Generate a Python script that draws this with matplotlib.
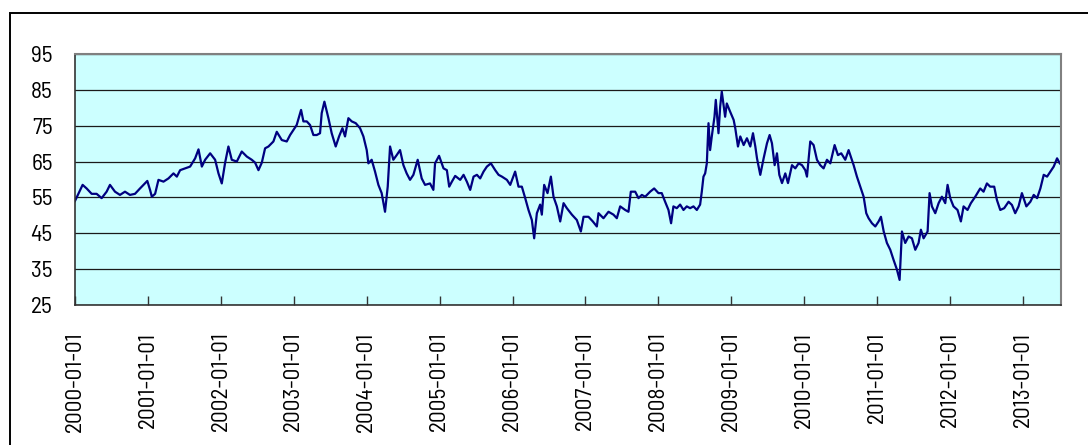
import matplotlib
matplotlib.use("Agg")
import matplotlib.pyplot as plt
import matplotlib.dates as mdates
from matplotlib import font_manager
from matplotlib.textpath import TextPath
from matplotlib.patches import Rectangle
import pandas as pd

# decimal years and index level
years = [
    2000.000, 2000.046, 2000.105, 2000.160, 2000.229, 2000.297, 2000.366, 2000.434,
    2000.480, 2000.549, 2000.617, 2000.686, 2000.754, 2000.823, 2000.892, 2000.992,
    2001.029, 2001.052, 2001.097, 2001.143, 2001.212, 2001.280, 2001.349, 2001.395,
    2001.440, 2001.509, 2001.577, 2001.646, 2001.692, 2001.738, 2001.783, 2001.852,
    2001.920, 2001.966, 2002.012, 2002.058, 2002.103, 2002.149, 2002.218, 2002.286,
    2002.355, 2002.423, 2002.469, 2002.515, 2002.561, 2002.606, 2002.652, 2002.720,
    2002.766, 2002.835, 2002.903, 2002.949, 2002.995, 2003.040, 2003.100, 2003.132,
    2003.178, 2003.223, 2003.269, 2003.315, 2003.360, 2003.383, 2003.420, 2003.475,
    2003.520, 2003.575, 2003.621, 2003.667, 2003.703, 2003.749, 2003.795, 2003.850,
    2003.909, 2003.955, 2004.001, 2004.024, 2004.069, 2004.115, 2004.161, 2004.206,
    2004.252, 2004.289, 2004.321, 2004.366, 2004.412, 2004.458, 2004.504, 2004.549,
    2004.595, 2004.641, 2004.700, 2004.755, 2004.801, 2004.869, 2004.915, 2004.938,
    2004.993, 2005.052, 2005.098, 2005.130, 2005.167, 2005.212, 2005.281, 2005.327,
    2005.372, 2005.418, 2005.464, 2005.510, 2005.555, 2005.601, 2005.647, 2005.702,
    2005.761, 2005.807, 2005.853, 2005.921, 2005.967, 2006.035, 2006.081, 2006.127,
    2006.173, 2006.218, 2006.264, 2006.296, 2006.333, 2006.378, 2006.401, 2006.433,
    2006.479, 2006.525, 2006.561, 2006.607, 2006.653, 2006.699, 2006.744, 2006.813,
    2006.881, 2006.936, 2006.973, 2007.041, 2007.101, 2007.156, 2007.179, 2007.247,
    2007.316, 2007.384, 2007.430, 2007.476, 2007.545, 2007.590, 2007.622, 2007.682,
    2007.727, 2007.773, 2007.819, 2007.887, 2007.942, 2008.002, 2008.047, 2008.093,
    2008.139, 2008.175, 2008.207, 2008.253, 2008.299, 2008.345, 2008.390, 2008.436,
    2008.482, 2008.528, 2008.573, 2008.596, 2008.619, 2008.642, 2008.665, 2008.688,
    2008.710, 2008.733, 2008.770, 2008.788, 2008.825, 2008.848, 2008.870, 2008.916,
    2008.939, 2008.985, 2009.031, 2009.053, 2009.090, 2009.122, 2009.168, 2009.213,
    2009.259, 2009.296, 2009.328, 2009.351, 2009.396, 2009.442, 2009.488, 2009.524,
    2009.556, 2009.593, 2009.625, 2009.657, 2009.694, 2009.739, 2009.776, 2009.831,
    2009.876, 2009.922, 2009.968, 2010.014, 2010.037, 2010.082, 2010.128, 2010.174,
    2010.219, 2010.265, 2010.311, 2010.357, 2010.416, 2010.462, 2010.507, 2010.562,
    2010.608, 2010.677, 2010.722, 2010.768, 2010.814, 2010.850, 2010.882, 2010.928,
    2010.974, 2011.020, 2011.052, 2011.090, 2011.134, 2011.180, 2011.225, 2011.271,
    2011.308, 2011.340, 2011.385, 2011.431, 2011.477, 2011.523, 2011.568, 2011.600,
    2011.637, 2011.692, 2011.719, 2011.751, 2011.797, 2011.843, 2011.888, 2011.934,
    2011.966, 2012.003, 2012.048, 2012.103, 2012.149, 2012.186, 2012.240, 2012.286,
    2012.346, 2012.414, 2012.460, 2012.506, 2012.551, 2012.606, 2012.643, 2012.689,
    2012.743, 2012.803, 2012.849, 2012.894, 2012.940, 2012.986, 2013.045, 2013.100,
    2013.146, 2013.192, 2013.237, 2013.283, 2013.329, 2013.375, 2013.420, 2013.466,
    2013.503,
]
values = [
    54.0, 56.0, 58.5, 57.5, 56.0, 56.0, 54.8, 56.6,
    58.5, 56.6, 55.7, 56.6, 55.7, 56.0, 57.5, 59.6,
    57.0, 55.2, 56.0, 59.9, 59.4, 60.3, 61.7, 60.8,
    62.6, 63.1, 63.6, 65.9, 68.4, 63.6, 65.5, 67.3,
    65.5, 61.7, 58.9, 64.7, 69.2, 65.5, 65.0, 67.8,
    66.4, 65.5, 64.7, 62.6, 64.7, 68.7, 69.2, 70.6,
    73.3, 71.0, 70.6, 72.4, 73.8, 75.2, 79.4, 76.2,
    76.2, 75.2, 72.4, 72.4, 72.9, 78.5, 81.7, 77.1,
    72.9, 69.2, 72.0, 74.3, 72.0, 77.1, 76.2, 75.7,
    74.3, 72.0, 68.2, 64.5, 65.5, 62.2, 58.5, 56.2,
    51.0, 58.0, 69.2, 65.5, 66.8, 68.2, 64.0, 61.7,
    59.9, 61.3, 65.5, 60.3, 58.5, 58.9, 57.1, 64.5,
    66.6, 63.1, 62.6, 58.0, 59.4, 61.0, 59.9, 61.3,
    59.4, 57.1, 60.8, 61.3, 60.3, 62.2, 63.6, 64.5,
    62.6, 61.3, 60.8, 59.9, 58.5, 62.2, 58.0, 58.0,
    54.8, 51.5, 48.7, 43.6, 50.6, 53.0, 50.2, 58.5,
    56.2, 60.8, 55.2, 52.5, 48.3, 53.4, 52.0, 50.2,
    48.7, 45.5, 49.6, 49.6, 48.3, 46.9, 50.6, 49.2,
    51.0, 50.2, 49.2, 52.5, 51.5, 51.0, 56.6, 56.6,
    54.8, 55.7, 55.2, 56.6, 57.5, 56.2, 56.2, 53.8,
    51.5, 47.8, 52.5, 52.0, 53.0, 51.5, 52.5, 52.0,
    52.5, 51.5, 53.0, 56.6, 60.8, 61.7, 64.5, 75.7,
    68.2, 72.0, 77.5, 82.2, 72.9, 80.3, 84.5, 77.5,
    81.2, 78.9, 76.6, 74.3, 69.2, 72.0, 69.6, 71.5,
    69.2, 72.9, 69.2, 65.9, 61.3, 65.9, 70.1, 72.4,
    70.1, 64.0, 67.3, 61.3, 59.0, 61.7, 59.0, 64.0,
    63.1, 64.5, 64.0, 62.6, 60.8, 70.6, 69.6, 65.5,
    64.0, 63.1, 65.5, 64.5, 69.6, 66.8, 67.3, 65.5,
    68.2, 64.0, 60.8, 58.0, 55.2, 50.6, 49.2, 47.8,
    46.9, 48.3, 49.6, 45.5, 42.3, 40.4, 37.6, 34.9,
    32.0, 45.5, 42.3, 44.1, 43.6, 40.4, 42.3, 46.0,
    43.6, 45.5, 56.2, 52.5, 50.6, 53.4, 55.2, 53.4,
    58.5, 54.8, 52.5, 51.5, 48.3, 52.5, 51.5, 53.4,
    55.2, 57.5, 56.6, 58.9, 58.0, 58.0, 54.3, 51.5,
    52.0, 53.8, 52.9, 50.6, 52.5, 56.2, 52.5, 53.8,
    55.7, 54.8, 57.5, 61.3, 60.8, 62.2, 63.6, 65.9,
    64.5,
]
y_ticks = [25, 35, 45, 55, 65, 75, 85, 95]


def text_ratio(prop):
    ext = TextPath((0, 0), '2000-01-01', size=100, prop=prop).get_extents()
    return ext.width / ext.height, ext.width


# tick labels want a narrow sans face (date label ~100 px long, digits ~17.5 px
# tall); look only at narrow/condensed files plus plain Liberation Sans
target_width = 98
target_ratio = 103 / 17.7
candidates = []
for f in font_manager.fontManager.ttflist:
    name = f.name.lower()
    fname = f.fname.lower()
    if 'cjk' in fname or 'serif' in name or 'mono' in name or f.style != 'normal':
        continue
    if f.weight not in (400, 'normal', 'regular'):
        continue
    narrow = ('narrow' in name or 'condensed' in name or 'narrow' in fname
              or 'condensed' in fname or f.stretch not in ('normal', 500))
    if narrow or name == 'liberation sans':
        candidates.append(f.fname)

best = None
for fname in candidates[:80]:
    try:
        prop = font_manager.FontProperties(fname=fname)
        ratio, width = text_ratio(prop)
    except Exception:
        continue
    score = abs(ratio - target_ratio)
    if best is None or score < best[0]:
        best = (score, width, prop)

if best is None:
    label_font = font_manager.FontProperties(family='Liberation Sans')
    label_size = 14.0
else:
    _, w100, label_font = best
    label_size = target_width * 72 / w100

dates = [pd.Timestamp(int(y), 1, 1) + pd.Timedelta(days=(y - int(y)) * 365.25)
         for y in years]

fig = plt.figure(figsize=(10.88, 4.45), dpi=100)
ax = fig.add_axes([0.0689, 0.3146, 0.9063, 0.5641])
ax.set_facecolor('#ccffff')

ax.plot(dates, values, color='#000080', linewidth=1.6)

ax.set_ylim(25, 95)
ax.set_yticks(y_ticks)
ax.set_xlim(pd.Timestamp('2000-01-01'), pd.Timestamp('2013-07-10'))
ax.xaxis.set_major_locator(mdates.YearLocator())
ax.xaxis.set_major_formatter(mdates.DateFormatter('%Y-%m-%d'))

ax.grid(axis='y', color='#1a1a1a', linewidth=0.9)
ax.set_axisbelow(True)

ax.tick_params(axis='y', length=0, pad=16)
ax.tick_params(axis='x', direction='in', length=6.5, width=1, color='#333333',
               pad=19, labelrotation=90)
for lbl in ax.get_xticklabels() + ax.get_yticklabels():
    lbl.set_fontproperties(label_font)
    lbl.set_fontsize(label_size)

for side in ('top', 'right'):
    ax.spines[side].set_color('#808080')
    ax.spines[side].set_linewidth(1.5)
for side in ('left', 'bottom'):
    ax.spines[side].set_color('#333333')
    ax.spines[side].set_linewidth(1.2)

# outer chart border
fig.add_artist(Rectangle((10 / 1088, -0.5), 2, 0.5 + 1 - 13 / 445,
                         transform=fig.transFigure, fill=False,
                         edgecolor='black', linewidth=1.4, clip_on=False))

fig.savefig('out.png', dpi=100)
